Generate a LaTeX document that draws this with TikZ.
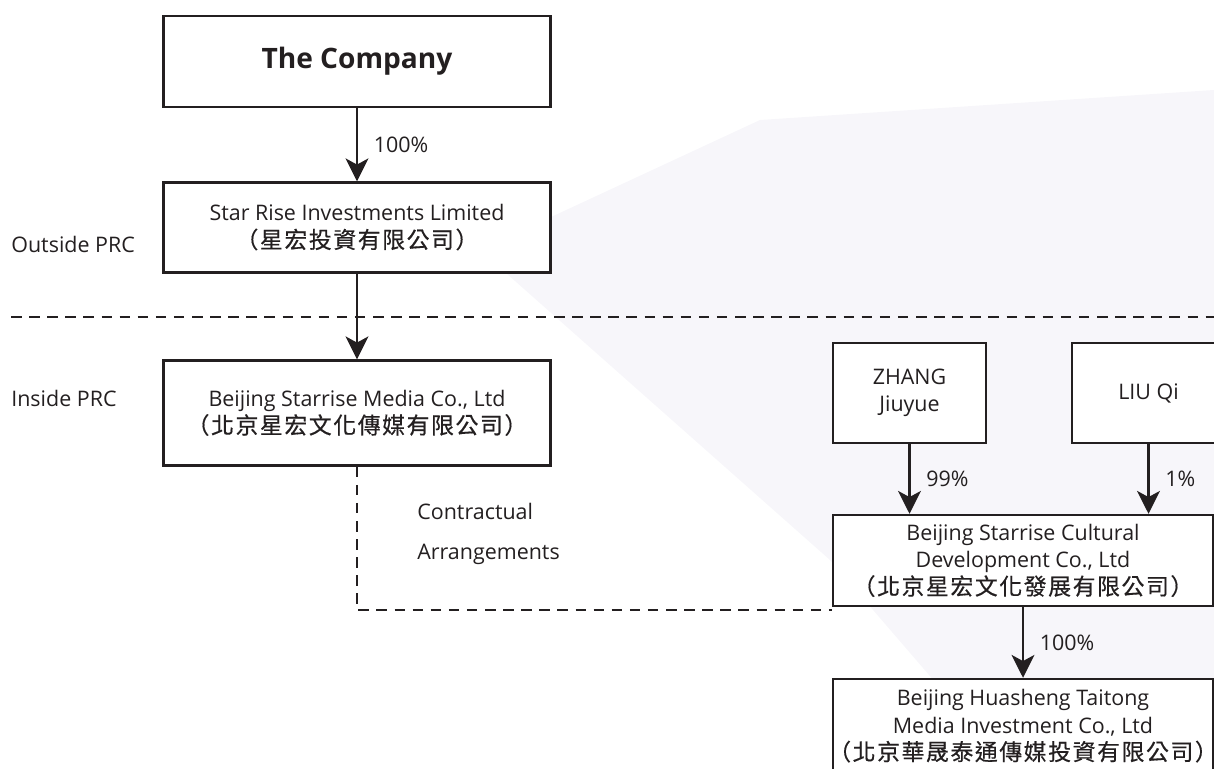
\documentclass[tikz,border=0pt]{standalone}
\usepackage{fontspec}
\setmainfont{Open Sans}
\newfontfamily\cjk[FakeBold=0.5, LetterSpace=7]{Noto Sans CJK TC}
\usepackage{tikz}
\usetikzlibrary{arrows.meta}
\definecolor{wash}{RGB}{247,246,250}
\definecolor{ink}{RGB}{35,31,32}
\newcommand{\zh}[1]{\makebox[60mm]{\cjk\fontsize{13}{18}\selectfont #1}}

\tikzset{
	box/.style={draw=ink, line width=1.4pt, fill=white, align=center, inner sep=0pt, text=ink, font=\fontsize{12.2}{15.5}\selectfont},
	arr/.style={-{Stealth[length=13pt,width=13pt,inset=3.5pt]}, line width=1.2pt, draw=ink},
	divider/.style={line width=1.4pt, draw=ink, dash pattern=on 6pt off 4.3pt},
	lbl/.style={text=ink, inner sep=0pt, font=\fontsize{12.2}{15.5}\selectfont}
}

\begin{document}
\begin{tikzpicture}[x=0.2mm, y=-0.2mm]
	\useasboundingbox (0,0) rectangle (1214,769);
	\fill[wash] (480,250) -- (760,120) -- (1214,90) -- (1214,769) -- (1010,769) -- (830,560) -- cycle;
	
	\node[box, minimum width=77.4mm, minimum height=18.2mm, font=\fontsize{16}{19}\selectfont\bfseries] (A) at (357,61.5) {The Company};
	\node[box, minimum width=77.4mm, minimum height=18mm] (B) at (357,227.5) {Star Rise Investments Limited\\\zh{（星宏投資有限公司）}};
	\node[box, minimum width=77.4mm, minimum height=21mm] (C) at (357,413) {Beijing Starrise Media Co., Ltd\\\zh{（北京星宏文化傳媒有限公司）}};
	\node[box, minimum width=30.6mm, minimum height=20mm] (D) at (909.5,393) {ZHANG\\Jiuyue};
	\node[box, minimum width=30.6mm, minimum height=20mm] (E) at (1148.5,393) {LIU Qi};
	\node[box, minimum width=76mm, minimum height=18.2mm] (F) at (1023,560.5) {Beijing Starrise Cultural\\Development Co., Ltd\\\zh{（北京星宏文化發展有限公司）}};
	\node[box, minimum width=76mm, minimum height=18.8mm] (G) at (1023,726) {Beijing Huasheng Taitong\\Media Investment Co., Ltd\\\zh{（北京華晟泰通傳媒投資有限公司）}};
	
	\node[lbl, anchor=west] (O) at (11,244) {Outside PRC};
	\node[lbl, anchor=west] (I) at (11,398) {Inside PRC};
	\node[lbl, anchor=west, align=left, font=\fontsize{12.2}{22.5}\selectfont] (K) at (417,534) {Contractual\\Arrangements};
	
	\coordinate (L) at (11,317);
	\coordinate (R) at (1214,317);
	\draw[divider] (L) -- (R);
	
	\draw[arr] (A) -- node[lbl, right=9pt] {100\%} (B);
	\draw[arr] (B) -- (C);
	\draw[arr] (D) -- node[lbl, right=9pt] {99\%} (D |- F.north);
	\draw[arr] (E) -- node[lbl, right=9pt] {1\%} (E |- F.north);
	\draw[arr] (F) -- node[lbl, right=9pt] {100\%} (G);
	\draw[divider] (C.south) |- ([yshift=-0.6mm]F.south west);
\end{tikzpicture}
\end{document}
